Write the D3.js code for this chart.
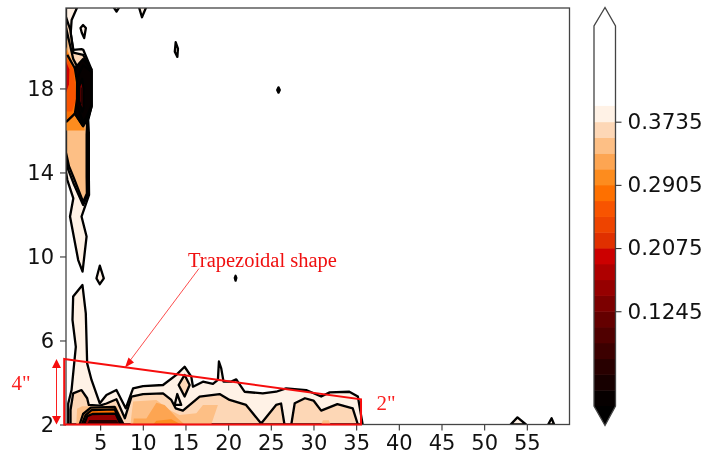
<!DOCTYPE html>
<html><head><meta charset="utf-8">
<script src="https://cdnjs.cloudflare.com/ajax/libs/d3/7.8.5/d3.min.js"></script>
<style>html,body{margin:0;padding:0;background:#fff}svg{display:block;filter:blur(0.45px)}</style>
</head><body><div id="c"></div>
<script>
const xTicks=[5,10,15,20,25,30,35,40,45,50,55];
const yTicks=[2,6,10,14,18];
const cbTicks=[0.3735,0.2905,0.2075,0.1245];
const levelEdges=[0,0.02075,0.0415,0.06225,0.083,0.10375,0.1245,0.14525,0.166,0.18675,0.2075,0.22825,0.249,0.26975,0.2905,0.31125,0.332,0.35275,0.3735,0.39425];
const levelColors=["#060000","#170000","#280000","#3c0000","#500000","#640000","#7c0000","#960000","#ae0000","#cc0000","#e03000","#ee4400","#f85400","#fe7000","#fd8c1e","#fda552","#fdbf85","#fdd7b6","#fff2e6"];

// contour regions, in data units of the two axes
const lvl0Bottom=[[1.26,2],[1.26,3],[1.65,3.64],[1.92,4.75],[2.15,5.7],[1.76,6.98],[1.84,8.09],[2.93,8.64],[3.32,7.29],[3.48,4.91],[3.99,4.12],[4.96,3.01],[5.74,3.4],[6.91,3.64],[8,2.77],[8.86,3.72],[10.03,3.83],[12.37,3.88],[13.93,4.36],[14.9,4.75],[15.68,4.28],[15.88,3.8],[17.05,4.04],[18.22,3.93],[18.8,4.12],[18.92,5],[19.19,4.67],[19.46,4.04],[20.36,4.04],[20.95,4.15],[21.92,3.56],[24.06,3.48],[25.62,3.56],[26.79,3.72],[29.14,3.64],[30.9,3.33],[31.9,3.53],[34.2,3.56],[35.2,3.33],[35.76,2]];
const lvl1Left=[[1.53,2],[1.53,2.69],[1.84,3.48],[2.82,3.64],[3.48,3.25],[3.67,2.93],[4.96,2.9],[5.74,3],[6.91,3.2],[7.9,2.3],[8.67,3.33],[10.03,3.45],[12.37,3.48],[13.34,3.17],[13.85,2.77],[14.7,2.66],[16.66,3.33],[19,3.45],[20.17,3.17],[22.1,2.93],[23.87,2.05],[25.62,2.93],[26.2,3],[26.6,2]];
const lvl1Right=[[27.4,2],[27.8,3.01],[29,3.25],[30,3.14],[30.9,2.66],[32.8,2.97],[34.6,2.77],[35.2,2]];
const triangleIsle=[[13.73,2.93],[14.04,3.45],[14.5,2.93]];
const diamondIsle=[[14.2,3.88],[14.9,4.36],[15.49,3.88],[14.9,3.33]];
const lvl2Left=[[2.2,2],[2.3,2.75],[2.9,2.87],[4,2.87],[7,2.87],[7.8,2]];
const lvl2Mid=[[8.55,2],[8.86,3.09],[11.59,3.17],[13.15,2.69],[14.3,2.45],[16.27,2.53],[17.05,2.93],[18.8,2.93],[18.02,2]];
const lvl2Right=[[30.9,2],[31.1,2.2],[31.8,2.2],[32,2]];
const lvl3Mid=[[8.86,2],[8.94,2.29],[10.42,2.29],[11.59,3.04],[12.56,2.93],[13.93,2.34],[14.9,2]];
const lvl4Mid=[[11.2,2],[11.59,2.18],[13.34,2.25],[14.5,2]];
const ring0=[[2.6,2],[3,2.5],[3.9,2.8],[6.7,2.84],[7.75,2]];
const ring1=[[2.85,2],[3.3,2.45],[4,2.68],[6.7,2.72],[7.6,2]];
const ring2=[[3.1,2],[3.5,2.4],[4.1,2.5],[6.8,2.52],[7.4,2]];
const ring3=[[3.5,2],[3.7,2.22],[6.9,2.22],[7.3,2]];
const tongue0=[[1,21.86],[2.31,21.86],[1.66,21.26],[1.55,20.63],[1.86,19.84],[2.82,19.87],[3.02,19.84],[3.99,18.9],[3.99,17.13],[3.6,16.5],[3.68,15.87],[3.68,13.65],[3.7,12.93],[2.82,11.9],[3.41,10.95],[2.94,9.28],[2.43,9.83],[1.47,11.9],[1.86,12.77],[1.16,13.64],[1,14.04]];
const tongue1=[[1,21.4],[1.5,20.8],[1.86,19.7],[3,19.6],[3.9,18.9],[3.9,17.13],[3.5,16.5],[3.55,15.8],[3.58,13.65],[3.6,13],[3.01,12.45],[1.86,13.5],[1.27,14.12],[1,14.75]];
const tongue2=[[1,20.9],[1.45,20.1],[1.85,19.4],[2.3,19.05],[3.1,18.6],[3.5,16.6],[3.42,15.8],[3.42,13.8],[3.45,13],[3.01,12.6],[1.95,13.7],[1.35,14.3],[1,14.95]];
const tongue3=[[1,20],[2,18.96],[3,17],[3.2,16],[1,16]];
const tongue4=[[1,19.8],[2.04,18.96],[2.6,17],[2.04,16.7],[1,16.35]];
const tongue5=[[1,19.5],[1.9,18.9],[2.2,17.5],[1.7,16.9],[1,16.9]];
const patch=[[1,19.3],[1.4,18.9],[1.35,18.2],[1,17.8]];
const core0=[[2.04,18.96],[3,19.4],[3.99,18.9],[3.99,17.13],[3.6,16.6],[3.02,16.2],[2.04,16.8],[2.3,17.5],[2.3,18.3]];
const core1=[[2.3,18.5],[3,19.1],[3.99,18.8],[3.99,17.2],[3.5,16.7],[3,16.4],[2.3,17.2]];
const core2=[[2.55,18.1],[2.9,18.45],[3.05,18],[3.05,17.1],[2.9,16.9],[2.55,17.4]];
const core3=[[2.78,18],[2.9,18.1],[2.92,17.2],[2.78,17.3]];
const chevron=[[1,16.4],[2.04,16.8],[3.02,16.2]];
const crossArm=[[1.15,19.6],[2.04,18.96]];
const topBumpA=[[6.52,21.9],[6.92,21.66],[7.3,21.9]];
const topBumpB=[[9.53,21.9],[9.9,21.39],[10.43,21.9]];
const isleA=[[2.7,20.88],[3,21.02],[3.33,20.88],[3.13,20.4],[2.85,20.65]];
const isleB=[[13.85,20.2],[14.12,19.9],[14.05,19.5],[13.75,19.75]];
const isleC=[[4.96,9.56],[5.43,8.96],[4.96,8.68],[4.57,8.96]];
const isleD=[[25.75,17.93],[25.9,18.05],[26.05,17.93],[25.9,17.8]];
const isleE=[[20.78,8.98],[20.87,9.08],[20.96,8.98],[20.87,8.85]];
const bumpF=[[21.7,2],[21.92,2.33],[22.2,2]];
const bumpG=[[53.1,2],[53.9,2.34],[54.9,2]];
const bumpH=[[57.5,2],[57.9,2.3],[58.2,2]];
const regions=[
 [lvl0Bottom,18,1],[tongue0,18,1],[topBumpA,18,1],[topBumpB,18,1],[isleA,18,1],[isleB,18,1],[isleC,18,1],[isleD,18,1],[isleE,18,1],[bumpF,18,1],[bumpG,18,1],[bumpH,18,1],
 [lvl1Left,17,1],[lvl1Right,17,1],[triangleIsle,18,1],[diamondIsle,17,1],
 [lvl2Left,16,0],[lvl2Mid,16,0],[lvl2Right,16,0],[lvl3Mid,15,0],[lvl4Mid,14,0],
 [ring0,15,1],[ring1,13,1],[ring2,7,1],[ring3,2,0],
 [tongue1,17,1],[tongue2,16,1],[tongue3,14,0],[tongue4,13,0],[tongue5,12,0],[patch,9,0],
 [core0,0,1],[core1,0,1],[core2,6,1],[core3,1,0]
];
const openLines=[chevron,crossArm];
const trapezoid=[[0.79,5.12],[35.57,3.2],[35.57,2],[0.79,2]];

const W=708,H=460;
const x=d3.scaleLinear().domain([1,60]).range([66,569.5]);
const y=d3.scaleLinear().domain([2,21.83]).range([424.5,8]);
const cb=d3.scaleLinear().domain([0,0.3735]).range([406,121.7]);
const svg=d3.select("#c").append("svg").attr("width",W).attr("height",H);
const line=d3.line().x(d=>x(d[0])).y(d=>y(d[1]));
const closed=p=>line(p)+"Z";
svg.append("defs").append("clipPath").attr("id","pl").append("rect")
  .attr("x",x.range()[0]).attr("y",y.range()[1]).attr("width",x.range()[1]-x.range()[0]).attr("height",y.range()[0]-y.range()[1]);
const plot=svg.append("g").attr("clip-path","url(#pl)");
plot.selectAll("path.r").data(regions).join("path").attr("class","r")
  .attr("d",d=>closed(d[0])).attr("fill",d=>levelColors[d[1]])
  .attr("stroke",d=>d[2]?"#000":"none").attr("stroke-width",2.3).attr("stroke-linejoin","round");
plot.selectAll("path.o").data(openLines).join("path").attr("class","o")
  .attr("d",line).attr("fill","none").attr("stroke","#000").attr("stroke-width",2.3);

// axes
const ax=d3.axisBottom(x).tickValues(xTicks).tickSize(6).tickPadding(5);
const ay=d3.axisLeft(y).tickValues(yTicks).tickSize(6).tickPadding(6);
const gx=svg.append("g").attr("transform",`translate(0,${y.range()[0]})`).call(ax);
const gy=svg.append("g").attr("transform",`translate(${x.range()[0]},0)`).call(ay);
[gx,gy].forEach(g=>{g.select(".domain").remove();g.selectAll("line").attr("stroke","#333").attr("stroke-width",1.1);
 g.selectAll("text").attr("font-family","'DejaVu Sans'").attr("font-size",21).attr("fill","#111");});
svg.append("rect").attr("x",x.range()[0]).attr("y",y.range()[1]).attr("width",x.range()[1]-x.range()[0]).attr("height",y.range()[0]-y.range()[1])
  .attr("fill","none").attr("stroke","#444").attr("stroke-width",1.3);

// colour bar
const cbL=594,cbR=615.5,cbM=605;
svg.selectAll("rect.b").data(levelColors).join("rect").attr("class","b")
  .attr("x",cbL).attr("width",cbR-cbL)
  .attr("y",(d,i)=>cb(levelEdges[i+1])).attr("height",(d,i)=>cb(levelEdges[i])-cb(levelEdges[i+1])+0.5)
  .attr("fill",d=>d);
svg.append("path").attr("d",`M${cbL},406L${cbM},425.5L${cbR},406Z`).attr("fill","#000");
svg.append("path").attr("d",`M${cbL},406L${cbL},26L${cbM},7.5L${cbR},26L${cbR},406L${cbM},425.5Z`)
  .attr("fill","none").attr("stroke","#444").attr("stroke-width",1.3);
const ac=svg.append("g").attr("transform",`translate(${cbR},0)`).call(d3.axisRight(cb).tickValues(cbTicks).tickFormat(d3.format(".4f")).tickSize(6).tickPadding(6));
ac.select(".domain").remove();
ac.selectAll("line").attr("stroke","#333").attr("stroke-width",1.1);
ac.selectAll("text").attr("font-family","'DejaVu Sans'").attr("font-size",21.5).attr("fill","#111");

// annotations
const red="#fb1f1f";
svg.append("path").attr("d",closed(trapezoid)).attr("fill","none").attr("stroke","#f60d0d").attr("stroke-width",2);
svg.append("line").attr("x1",56.5).attr("x2",56.5).attr("y1",362).attr("y2",422).attr("stroke",red).attr("stroke-width",1);
svg.append("path").attr("d","M56.5,359L52,368L61,368ZM56.5,424.5L52,416L61,416Z").attr("fill","#f60d0d");
svg.append("line").attr("x1",199).attr("y1",268.5).attr("x2",129).attr("y2",362).attr("stroke",red).attr("stroke-width",0.8);
svg.append("path").attr("d","M125,367.5L128.5,357.5L134,362.5Z").attr("fill","#f60d0d");
const serif="'Liberation Serif'";
svg.append("text").attr("x",188).attr("y",267).attr("font-family",serif).attr("font-size",20.5).attr("fill","#f01010").text("Trapezoidal shape");
svg.append("text").attr("x",11.5).attr("y",390).attr("font-family",serif).attr("font-size",21).attr("fill",red).text('4"');
svg.append("text").attr("x",376.5).attr("y",410).attr("font-family",serif).attr("font-size",21).attr("fill",red).text('2"');
</script></body></html>
